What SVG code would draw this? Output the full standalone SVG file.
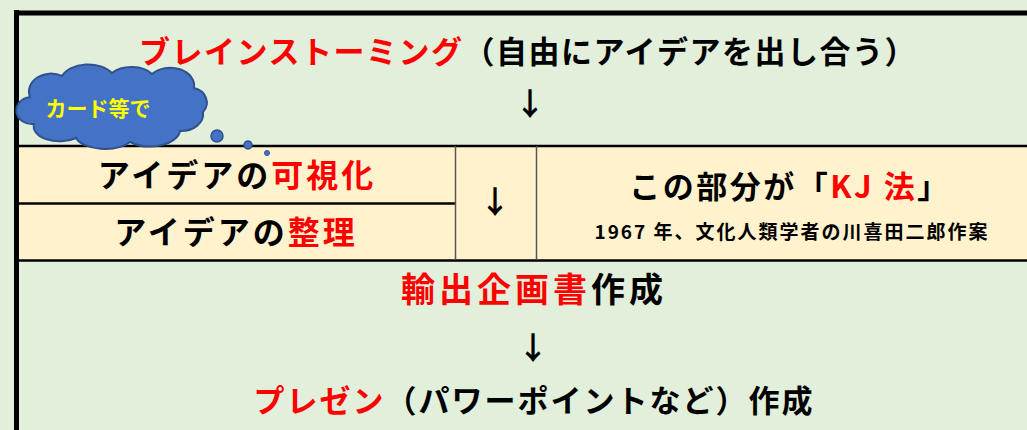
<svg xmlns="http://www.w3.org/2000/svg" width="1027" height="430" viewBox="0 0 1027 430">
<style>
.t{font-family:"Noto Sans CJK JP","Noto Sans",sans-serif;font-weight:bold;fill:#000;text-anchor:middle}
.r{fill:#FF0000}
.big{font-size:31px}
.line{stroke:#000;fill:none}
</style>
<rect x="0" y="0" width="1027" height="430" fill="#E2EFDA"/>
<g id="table">
<rect x="17" y="146" width="1010" height="114" fill="#FFF2CC"/>
<line class="line" x1="14" y1="146" x2="1027" y2="146" stroke-width="2.5"/>
<line class="line" x1="17" y1="203.5" x2="455" y2="203.5" stroke-width="2.5"/>
<line class="line" x1="14" y1="260.5" x2="1027" y2="260.5" stroke-width="2.5"/>
<line x1="455.5" y1="146" x2="455.5" y2="260" stroke="#555" stroke-width="1.5"/>
<line x1="536.5" y1="146" x2="536.5" y2="260" stroke="#555" stroke-width="1.5"/>
</g>
<g id="frame">
<line class="line" x1="14" y1="13" x2="1027" y2="13" stroke-width="5"/>
<line class="line" x1="16.5" y1="10" x2="16.5" y2="430" stroke-width="5"/>
</g>
<g id="brainstorming">
<text class="t big" x="528" y="63" letter-spacing="1.5"><tspan class="r">ブレインストーミング</tspan>（自由にアイデアを出し合う）</text>
</g>
<g id="connectors">
<text class="t big" x="530" y="115">↓</text>
<text class="t big" x="495" y="213">↓</text>
<text class="t big" x="533" y="359">↓</text>
</g>
<g id="visualize">
<text class="t" font-size="32" x="237" y="187" letter-spacing="3">アイデアの<tspan class="r">可視化</tspan></text>
</g>
<g id="organize">
<text class="t" font-size="32" x="236" y="244" letter-spacing="3">アイデアの<tspan class="r">整理</tspan></text>
</g>
<g id="kj">
<text class="t" font-size="31" x="790" y="198" letter-spacing="2.5">この部分が「<tspan class="r">KJ 法</tspan>」</text>
<text class="t" font-size="19" x="792" y="239" letter-spacing="2">1967 年、文化人類学者の川喜田二郎作案</text>
</g>
<g id="export">
<text class="t" font-size="34" x="534" y="302" letter-spacing="4"><tspan class="r">輸出企画書</tspan>作成</text>
</g>
<g id="presentation">
<text class="t big" x="534" y="412" letter-spacing="2"><tspan class="r">プレゼン</tspan>（パワーポイントなど）作成</text>
</g>
<g id="cloud">
<path d="M30,97 A22 18 0 0 1 62,76 A28 18 0 0 1 112,73 A25 16 0 0 1 152,74 A24 18 0 0 1 194,88 A17 15 0 0 1 203,112 A22 17 0 0 1 180,131 A30 17 0 0 1 130,142 A30 15 0 0 1 76,138 A26 15 0 0 1 34,124 A15 13 0 0 1 30,97 Z" fill="#4472C4" stroke="#2F528F" stroke-width="2"/>
<circle cx="217" cy="136" r="6" fill="#4472C4" stroke="#2F528F" stroke-width="1.5"/>
<circle cx="248" cy="145" r="4" fill="#4472C4" stroke="#2F528F" stroke-width="1.5"/>
<circle cx="267" cy="153" r="2.5" fill="#4472C4" stroke="#2F528F" stroke-width="1"/>
<text class="t" font-size="21" x="98" y="116" style="fill:#FFFF00">カード等で</text>
</g>
</svg>
